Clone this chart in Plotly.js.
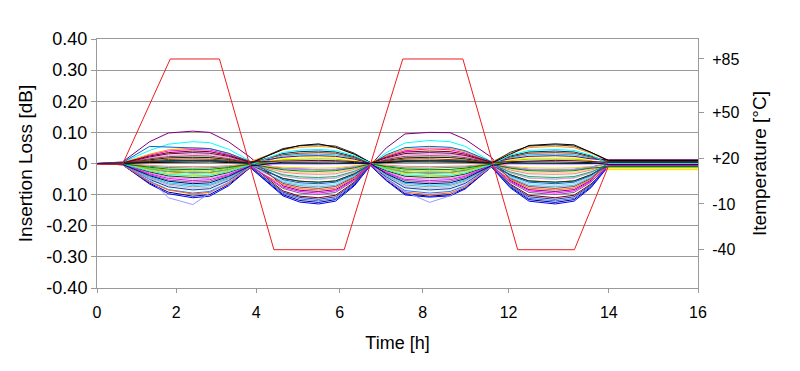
<!DOCTYPE html>
<html>
<head>
<meta charset="utf-8">
<script src="https://cdn.plot.ly/plotly-3.0.1.min.js"></script>
<style>html,body{margin:0;padding:0;background:#fff;}#chart{width:800px;height:371px;}</style>
</head>
<body>
<div id="chart"></div>
<script>
// Sample times (h) shared by all insertion-loss series
const timeH = [0,0.68,1.4,1.9,2.55,3.0,3.5,4.08,4.95,5.4,5.9,6.35,6.85,7.28,7.7,8.2,8.85,9.4,9.8,10.5,11.0,11.5,12.2,12.7,13.15,13.62,16];

// Insertion loss series [dB]
const il01 = [0,-0.004,-0.063,-0.092,-0.105,-0.1,-0.068,-0.013,-0.1,-0.119,-0.125,-0.116,-0.069,-0.006,-0.053,-0.097,-0.105,-0.1,-0.079,-0.011,-0.075,-0.116,-0.125,-0.116,-0.075,-0.005,-0.005];
const il02 = [0,0.002,0.027,0.04,0.045,0.043,0.029,0.005,-0.016,-0.019,-0.02,-0.019,-0.011,-0.001,0.023,0.041,0.047,0.044,0.034,0.005,-0.012,-0.019,-0.021,-0.019,-0.012,0.005,0.005];
const il03 = [0,-0.002,-0.024,-0.035,-0.04,-0.038,-0.026,-0.005,0.016,0.019,0.02,0.019,0.011,0.001,-0.02,-0.037,-0.041,-0.039,-0.03,-0.004,0.012,0.018,0.019,0.018,0.01,-0.02,-0.02];
const il04 = [0,0.003,0.042,0.062,0.07,0.067,0.046,0.008,-0.04,-0.048,-0.05,-0.047,-0.028,-0.003,0.035,0.066,0.074,0.07,0.055,0.007,-0.03,-0.047,-0.05,-0.046,-0.03,0,0];
const il05 = [0,0.005,0.07,0.098,0.104,0.1,0.07,0.02,-0.072,-0.086,-0.09,-0.084,-0.05,-0.005,0.05,0.095,0.1,0.099,0.078,0.02,-0.054,-0.084,-0.09,-0.084,-0.054,0.01,0.01];
const il06 = [0,-0.001,-0.018,-0.026,-0.03,-0.029,-0.02,-0.004,-0.088,-0.105,-0.11,-0.102,-0.06,-0.006,-0.015,-0.028,-0.031,-0.029,-0.022,-0.003,-0.066,-0.102,-0.11,-0.102,-0.066,-0.01,-0.01];
const il07 = [0,0,0.005,0.007,0.008,0.008,0.005,0.001,-0.048,-0.057,-0.06,-0.056,-0.033,-0.003,0.004,0.007,0.008,0.008,0.006,0.001,-0.036,-0.056,-0.06,-0.056,-0.036,0,0];
const il08 = [0,-0.004,-0.066,-0.097,-0.11,-0.105,-0.072,-0.013,-0.104,-0.124,-0.13,-0.121,-0.072,-0.007,-0.055,-0.101,-0.108,-0.104,-0.082,-0.011,-0.078,-0.121,-0.13,-0.121,-0.078,-0.008,-0.008];
const il09 = [0,-0.003,-0.042,-0.062,-0.07,-0.067,-0.046,-0.008,0.024,0.029,0.03,0.028,0.017,0.002,-0.035,-0.064,-0.07,-0.067,-0.053,-0.007,0.018,0.028,0.03,0.028,0.018,0.005,0.005];
const il10 = [0,-0.004,-0.054,-0.079,-0.09,-0.086,-0.059,-0.011,-0.032,-0.038,-0.04,-0.037,-0.022,-0.002,-0.045,-0.083,-0.09,-0.086,-0.068,-0.009,-0.024,-0.037,-0.04,-0.037,-0.024,0,0];
const il11 = [0,-0.001,-0.012,-0.018,-0.02,-0.019,-0.013,-0.002,0.008,0.01,0.01,0.009,0.006,0.001,-0.01,-0.018,-0.02,-0.019,-0.015,-0.002,0.006,0.009,0.01,0.009,0.006,0,0];
const il12 = [0,-0.002,-0.036,-0.053,-0.06,-0.057,-0.039,-0.007,-0.024,-0.029,-0.03,-0.028,-0.017,-0.002,-0.03,-0.055,-0.06,-0.057,-0.045,-0.006,-0.018,-0.028,-0.03,-0.028,-0.018,-0.015,-0.015];
const il13 = [0,-0.003,-0.048,-0.07,-0.08,-0.076,-0.052,-0.01,-0.056,-0.067,-0.07,-0.065,-0.039,-0.004,-0.04,-0.074,-0.08,-0.076,-0.06,-0.008,-0.042,-0.065,-0.07,-0.065,-0.042,0.002,0.002];
const il14 = [0,0.001,0.018,0.026,0.03,0.029,0.02,0.004,-0.04,-0.048,-0.05,-0.047,-0.028,-0.003,0.015,0.028,0.03,0.029,0.023,0.003,-0.03,-0.047,-0.05,-0.047,-0.03,0,0];
const il15 = [0,-0.002,-0.03,-0.044,-0.05,-0.048,-0.033,-0.006,-0.002,-0.003,-0.003,-0.002,-0.001,0,-0.025,-0.046,-0.05,-0.048,-0.038,-0.005,-0.002,-0.003,-0.003,-0.003,-0.002,0,0];
const il16 = [0,0.001,0.012,0.018,0.02,0.019,0.013,0.002,-0.024,-0.029,-0.03,-0.028,-0.017,-0.002,0.01,0.018,0.02,0.019,0.015,0.002,-0.018,-0.028,-0.03,-0.028,-0.018,0.005,0.005];
const il17 = [0,-0.004,-0.057,-0.084,-0.095,-0.09,-0.062,-0.011,-0.096,-0.114,-0.12,-0.112,-0.066,-0.006,-0.048,-0.087,-0.095,-0.09,-0.071,-0.01,-0.072,-0.112,-0.12,-0.112,-0.072,-0.004,-0.004];
const il18 = [0,-0.001,-0.018,-0.026,-0.03,-0.029,-0.02,-0.004,-0.06,-0.071,-0.075,-0.07,-0.041,-0.004,-0.015,-0.028,-0.03,-0.029,-0.023,-0.003,-0.045,-0.07,-0.075,-0.07,-0.045,0,0];
const il19 = [0,-0.001,-0.015,-0.022,-0.025,-0.024,-0.016,-0.003,0.012,0.014,0.015,0.014,0.008,0.001,-0.013,-0.023,-0.025,-0.024,-0.019,-0.003,0.009,0.014,0.015,0.014,0.009,-0.012,-0.012];
const il20 = [0,-0.001,-0.021,-0.031,-0.035,-0.033,-0.023,-0.004,-0.012,-0.014,-0.015,-0.014,-0.008,-0.001,-0.018,-0.032,-0.035,-0.033,-0.026,-0.004,-0.009,-0.014,-0.015,-0.014,-0.009,-0.018,-0.018];
const il21 = [0,0.002,0.03,0.044,0.05,0.048,0.033,0.006,0.044,0.052,0.055,0.051,0.03,0.003,0.025,0.046,0.05,0.048,0.038,0.005,0.033,0.051,0.055,0.051,0.033,0.008,0.008];
const il22 = [0,-0.004,-0.06,-0.085,-0.098,-0.093,-0.064,-0.012,-0.068,-0.081,-0.085,-0.079,-0.047,-0.004,-0.05,-0.092,-0.1,-0.095,-0.075,-0.01,-0.051,-0.079,-0.085,-0.079,-0.051,-0.003,-0.003];
const il23 = [0,-0.002,-0.036,-0.053,-0.06,-0.057,-0.039,-0.007,-0.08,-0.095,-0.1,-0.093,-0.055,-0.005,-0.03,-0.055,-0.06,-0.057,-0.045,-0.006,-0.06,-0.093,-0.1,-0.093,-0.06,0,0];
const il24 = [0,-0.003,-0.045,-0.066,-0.075,-0.071,-0.049,-0.009,-0.016,-0.019,-0.02,-0.019,-0.011,-0.001,-0.038,-0.069,-0.075,-0.071,-0.056,-0.008,-0.012,-0.019,-0.02,-0.019,-0.012,0,0];
const il25 = [0,0,0.006,0.009,0.01,0.01,0.007,0.001,0.032,0.038,0.04,0.037,0.022,0.002,0.005,0.009,0.01,0.01,0.008,0.001,0.024,0.037,0.04,0.037,0.024,0.006,0.006];
const il26 = [0,-0.001,-0.009,-0.013,-0.015,-0.014,-0.01,-0.002,-0.036,-0.043,-0.045,-0.042,-0.025,-0.002,-0.008,-0.014,-0.015,-0.014,-0.011,-0.002,-0.027,-0.042,-0.045,-0.042,-0.027,-0.005,-0.005];
const il27 = [0,0.001,0.012,0.018,0.02,0.019,0.013,0.002,0.001,0.001,0,0,0,0,0.01,0.018,0.02,0.019,0.015,0.002,0.001,0.001,0,0,0,0.003,0.003];
const il28 = [0,-0.002,-0.027,-0.04,-0.045,-0.043,-0.029,-0.005,-0.048,-0.057,-0.06,-0.056,-0.033,-0.003,-0.023,-0.041,-0.045,-0.043,-0.034,-0.005,-0.036,-0.056,-0.06,-0.056,-0.036,-0.006,-0.006];
const il29 = [0,0.001,0.009,0.013,0.015,0.014,0.01,0.002,0.028,0.033,0.035,0.033,0.019,0.002,0.008,0.014,0.015,0.014,0.011,0.002,0.021,0.033,0.035,0.033,0.021,0.004,0.004];
const il30 = [0,0.001,0.015,0.022,0.025,0.024,0.016,0.003,-0.064,-0.076,-0.08,-0.074,-0.044,-0.004,0.013,0.023,0.025,0.024,0.019,0.003,-0.048,-0.074,-0.08,-0.074,-0.048,0.002,0.002];
const il31 = [0,-0.003,-0.051,-0.075,-0.085,-0.081,-0.055,-0.01,-0.092,-0.109,-0.115,-0.107,-0.063,-0.006,-0.043,-0.078,-0.085,-0.081,-0.064,-0.009,-0.069,-0.107,-0.115,-0.107,-0.069,-0.002,-0.002];
const il32 = [0,0,0.006,0.009,0.01,0.01,0.007,0.001,0.048,0.057,0.06,0.056,0.033,0.003,0.005,0.009,0.01,0.01,0.008,0.001,0.036,0.056,0.06,0.056,0.036,0.01,0.01];
const il33 = [0,-0.003,-0.05,-0.11,-0.132,-0.095,-0.06,-0.01,-0.016,-0.019,-0.02,-0.019,-0.011,-0.001,-0.05,-0.09,-0.125,-0.104,-0.07,-0.01,-0.012,-0.019,-0.02,-0.019,-0.012,0,0];
const il34 = [0,0.001,0.021,0.031,0.035,0.033,0.023,0.004,0.02,0.024,0.025,0.023,0.014,0.001,0.018,0.032,0.035,0.033,0.026,0.004,0.015,0.023,0.025,0.023,0.015,0.012,0.012];
const il35 = [0,0,-0.006,-0.009,-0.01,-0.01,-0.007,-0.001,-0.028,-0.033,-0.035,-0.033,-0.019,-0.002,-0.005,-0.009,-0.01,-0.01,-0.008,-0.001,-0.021,-0.033,-0.035,-0.033,-0.021,-0.004,-0.004];
const il36 = [0,0.003,0.055,0.053,0.05,0.048,0.033,0.006,-0.052,-0.062,-0.065,-0.06,-0.036,-0.003,0.028,0.051,0.055,0.052,0.041,0.006,-0.039,-0.06,-0.065,-0.06,-0.039,0.002,0.002];
const il37 = [0,0,0.003,0.004,0.005,0.005,0.003,0.001,0.045,0.058,0.063,0.052,0.03,0.003,0.003,0.005,0.005,0.005,0.004,0.001,0.03,0.058,0.063,0.06,0.036,0.009,0.009];
const il38 = [0,-0.002,-0.033,-0.048,-0.055,-0.052,-0.036,-0.007,-0.076,-0.09,-0.095,-0.088,-0.052,-0.005,-0.028,-0.051,-0.055,-0.052,-0.041,-0.006,-0.057,-0.088,-0.095,-0.088,-0.057,-0.008,-0.008];
const il39 = [0,-0.002,-0.024,-0.035,-0.04,-0.038,-0.026,-0.005,0.036,0.043,0.045,0.042,0.025,0.002,-0.02,-0.037,-0.04,-0.038,-0.03,-0.004,0.027,0.042,0.045,0.042,0.027,0,0];
const il40 = [0,-0.001,-0.012,-0.018,-0.02,-0.019,-0.013,-0.002,-0.02,-0.024,-0.025,-0.023,-0.014,-0.001,-0.01,-0.018,-0.02,-0.019,-0.015,-0.002,-0.015,-0.023,-0.025,-0.023,-0.015,-0.01,-0.01];
const il41 = [0,0.002,0.024,0.035,0.04,0.038,0.026,0.005,0.008,0.01,0.01,0.009,0.006,0.001,0.02,0.037,0.04,0.038,0.03,0.004,0.006,0.009,0.01,0.009,0.006,0.004,0.004];
const il42 = [0,-0.003,-0.039,-0.057,-0.065,-0.062,-0.042,-0.008,0.004,0.005,0.005,0.005,0.003,0,-0.033,-0.06,-0.065,-0.062,-0.049,-0.007,0.003,0.005,0.005,0.005,0.003,-0.003,-0.003];

const lossSeries = [il01,il02,il03,il04,il05,il06,il07,il08,il09,il10,il11,il12,il13,il14,il15,il16,il17,il18,il19,il20,il21,il22,il23,il24,il25,il26,il27,il28,il29,il30,il31,il32,il33,il34,il35,il36,il37,il38,il39,il40,il41,il42];
const seriesColors = ['#000080','#FF00FF','#FFFF00','#00FFFF','#800080','#800000','#008080','#0000FF','#00CCFF','#CCFFFF','#CCFFCC','#FFFF99','#99CCFF','#FF99CC','#CC99FF','#FFCC99','#3366FF','#33CCCC','#99CC00','#FFCC00','#FF9900','#FF6600','#666699','#969696','#003366','#339966','#003300','#333300','#993300','#993366','#333399','#333333','#9999FF','#660066','#FF8080','#0066CC','#000000','#FF00FF','#00FFFF','#008000','#800000','#000080'];

// Temperature profile (°C)
const tempTime = [0,0.68,1.95,3.26,4.71,6.58,8.14,9.74,11.2,12.71,13.62];
const tempDegC = [16,16,85,85,-40,-40,85,85,-40,-40,15];

// Axis ticks
const xTickVals = [0,2.111,4.241,6.459,8.668,10.958,13.625,16];
const xTickText = ['0','2','4','6','8','12','14','16'];
const yTickVals = [0.4,0.3,0.2,0.1,0,-0.1,-0.2,-0.3,-0.4];
const yTickText = ['0.40','0.30','0.20','0.10','0','0.10','-0.20','-0.30','-0.40'];
const tTickVals = [85,50,20,-10,-40];
const tTickText = ['+85','+50','+20','-10','-40'];

const FONT = 'Liberation Sans, Arial, sans-serif';
const traces = lossSeries.map((s, i) => ({
  x: timeH, y: s, type: 'scatter', mode: 'lines',
  line: {color: seriesColors[i % seriesColors.length], width: 1},
  hoverinfo: 'skip', yaxis: 'y'
}));
traces.push({
  x: tempTime, y: tempDegC, type: 'scatter', mode: 'lines',
  line: {color: '#EE1C1C', width: 1}, yaxis: 'y2', hoverinfo: 'skip'
});

const layout = {
  width: 800, height: 371,
  margin: {l: 97, r: 102, t: 39, b: 83},
  paper_bgcolor: '#fff', plot_bgcolor: '#fff',
  showlegend: false,
  font: {family: FONT, color: '#000'},
  xaxis: {
    range: [0, 16], tickmode: 'array', tickvals: xTickVals, ticktext: xTickText,
    showgrid: false, zeroline: false, showline: true, linecolor: '#9a9a9a', linewidth: 1,
    mirror: true, ticks: 'outside', ticklen: 4, tickcolor: '#9a9a9a',
    tickfont: {size: 16, family: FONT, color: '#000'},
    ticklabelstandoff: 6,
    title: {text: 'Time [h]', font: {size: 18, family: FONT, color: '#000'}, standoff: 16}
  },
  yaxis: {
    range: [-0.4, 0.4], tickmode: 'array', tickvals: yTickVals, ticktext: yTickText,
    showgrid: true, gridcolor: '#9a9a9a', gridwidth: 1, zeroline: false,
    showline: true, linecolor: '#9a9a9a', ticks: 'outside', ticklen: 5, tickcolor: '#9a9a9a',
    tickfont: {size: 18, family: FONT, color: '#000'},
    title: {text: 'Insertion Loss [dB]', font: {size: 19, family: FONT, color: '#000'}, standoff: 8}
  },
  yaxis2: {
    overlaying: 'y', side: 'right', range: [-65.1, 98.1],
    tickmode: 'array', tickvals: tTickVals, ticktext: tTickText,
    showgrid: false, zeroline: false, showline: true, linecolor: '#9a9a9a',
    ticks: 'outside', ticklen: 5, tickcolor: '#9a9a9a',
    tickfont: {size: 16, family: FONT, color: '#000'},
    ticklabelstandoff: 5,
    title: {text: 'Itemperature [°C]', font: {size: 19, family: FONT, color: '#000'}, standoff: 14}
  }
};

Plotly.newPlot('chart', traces, layout, {displayModeBar: false, staticPlot: true});
</script>
</body>
</html>
